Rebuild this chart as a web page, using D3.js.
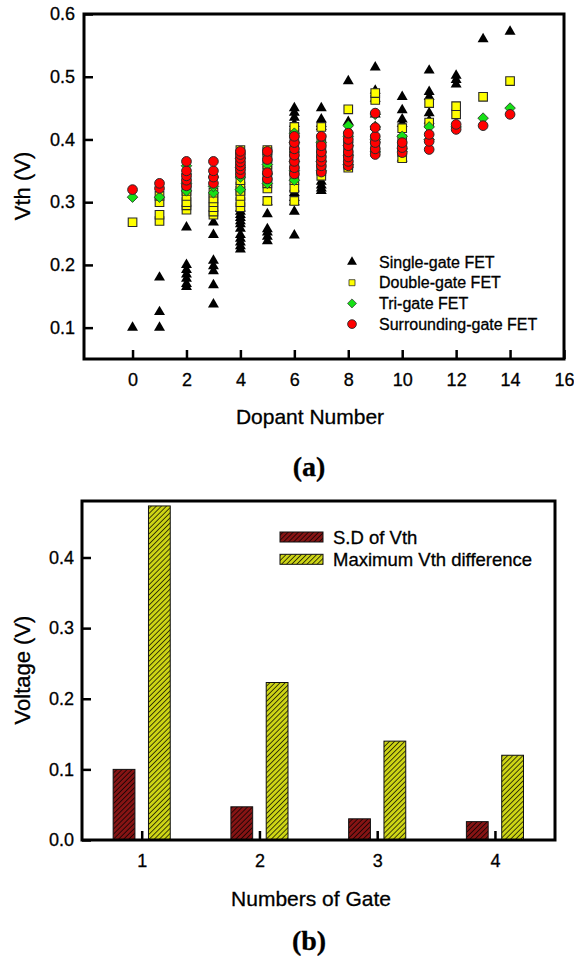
<!DOCTYPE html>
<html><head><meta charset="utf-8">
<script src="https://cdn.jsdelivr.net/npm/d3@7/dist/d3.min.js"></script>
<style>
body{margin:0;background:#fff;}
svg text{font-family:"Liberation Sans",Arial,sans-serif;fill:#000;stroke:#000;stroke-width:0.3px;}
</style></head>
<body><svg id="c" width="574" height="968"></svg>
<script>
// ---------- Data: panel (a) ----------
// Index = dopant number (0..14); values = Vth (V)
const dopantNumbers = [0,1,2,3,4,5,6,7,8,9,10,11,12,13,14];
const singleGate = [
  [0.10],
  [0.10,0.125,0.18],
  [0.165,0.17,0.178,0.185,0.192,0.20,0.26],
  [0.137,0.168,0.19,0.198,0.207,0.248,0.268],
  [0.225,0.23,0.236,0.242,0.248,0.258,0.265,0.27,0.275,0.28,0.285,0.29],
  [0.238,0.245,0.252,0.257,0.281,0.30],
  [0.247,0.285,0.30,0.307,0.315,0.322,0.425,0.435,0.443,0.45],
  [0.318,0.322,0.327,0.333,0.42,0.425,0.432,0.45],
  [0.36,0.38,0.40,0.415,0.428,0.493],
  [0.385,0.40,0.42,0.44,0.465,0.478,0.515],
  [0.37,0.385,0.425,0.432,0.447,0.468],
  [0.43,0.442,0.468,0.476,0.51],
  [0.488,0.495,0.502],
  [0.56],
  [0.572]
];
const doubleGate = [
  [0.268],
  [0.27,0.28,0.30,0.31],
  [0.288,0.295,0.30,0.31,0.318,0.325,0.335],
  [0.28,0.285,0.292,0.30,0.306,0.315],
  [0.292,0.30,0.31,0.318,0.325,0.335,0.345,0.355,0.365,0.375,0.383],
  [0.302,0.322,0.33,0.34,0.35,0.36,0.37,0.38,0.383],
  [0.302,0.322,0.335,0.35,0.36,0.375,0.39,0.40,0.41,0.42],
  [0.342,0.35,0.36,0.37,0.38,0.39,0.40,0.42],
  [0.355,0.36,0.37,0.38,0.39,0.40,0.448],
  [0.38,0.39,0.40,0.463,0.474],
  [0.37,0.38,0.39,0.40,0.418],
  [0.427,0.458],
  [0.44,0.453],
  [0.468],
  [0.493]
];
const triGate = [
  [0.308],
  [0.308],
  [0.318,0.33,0.345,0.358],
  [0.315,0.325,0.34],
  [0.32,0.34,0.355,0.37],
  [0.33,0.345,0.36],
  [0.335,0.35,0.365,0.38,0.395,0.41],
  [0.35,0.365,0.38,0.395],
  [0.36,0.375,0.39,0.405,0.422],
  [0.38,0.40,0.42,0.44],
  [0.385,0.405],
  [0.40,0.42],
  [0.42],
  [0.434],
  [0.45]
];
const surroundingGate = [
  [0.32],
  [0.322,0.33],
  [0.326,0.335,0.342,0.35,0.365],
  [0.33,0.34,0.35,0.365],
  [0.345,0.352,0.358,0.364,0.37,0.376,0.381],
  [0.337,0.347,0.368,0.381],
  [0.345,0.355,0.365,0.375,0.385,0.395,0.405],
  [0.348,0.358,0.365,0.372,0.38,0.39,0.405],
  [0.358,0.365,0.372,0.38,0.39,0.40,0.41],
  [0.376,0.385,0.395,0.405,0.419,0.442],
  [0.379,0.387,0.395],
  [0.384,0.397,0.408],
  [0.416,0.424],
  [0.422],
  [0.44]
];
const seriesNamesA = ["Single-gate FET","Double-gate FET","Tri-gate FET","Surrounding-gate FET"];
const xTicksA = [0,2,4,6,8,10,12,14,16];
const yTicksA = [0.1,0.2,0.3,0.4,0.5,0.6];

// ---------- Data: panel (b) ----------
const gates = [1,2,3,4];
const sdVth = [0.100,0.047,0.030,0.026];
const maxVthDiff = [0.473,0.223,0.140,0.120];
const seriesNamesB = ["S.D of Vth","Maximum Vth difference"];
const yTicksB = [0.0,0.1,0.2,0.3,0.4];

// ---------- Drawing ----------
const svg = d3.select("#c");
const defs = svg.append("defs");
function hatch(id, base){
  const p = defs.append("pattern").attr("id",id).attr("patternUnits","userSpaceOnUse")
    .attr("width",3.6).attr("height",3.6).attr("patternTransform","rotate(45)");
  p.append("rect").attr("width",3.6).attr("height",3.6).attr("fill",base);
  p.append("line").attr("x1",0).attr("y1",0).attr("x2",0).attr("y2",3.6)
    .attr("stroke","#000").attr("stroke-width",1.4);
}
hatch("hRed","#861414");
hatch("hYel","#cdd415");

// Panel (a)
const A = {l:84, r:564, t:14, b:359};
const xA = d3.scaleLinear().domain([-1.8,16]).range([A.l,A.r]);
const yA = d3.scaleLinear().domain([0.05,0.6]).range([A.b,A.t]);
const gA = svg.append("g");

const axA_x = gA.append("g").attr("transform",`translate(0,${A.b})`)
  .call(d3.axisBottom(xA).tickValues(xTicksA).tickSize(-9).tickPadding(14).tickFormat(d3.format("d")));
const axA_y = gA.append("g").attr("transform",`translate(${A.l},0)`)
  .call(d3.axisLeft(yA).tickValues(yTicksA).tickSize(-9).tickPadding(9).tickFormat(d3.format(".1f")));
[axA_x,axA_y].forEach(a=>{
  a.select(".domain").remove();
  a.selectAll(".tick line").attr("stroke","#000").attr("stroke-width",2.5);
  a.selectAll(".tick text").attr("font-size",18).attr("font-family","Liberation Sans, Arial");
});
gA.append("rect").attr("x",A.l).attr("y",A.t).attr("width",A.r-A.l).attr("height",A.b-A.t)
  .attr("fill","none").attr("stroke","#000").attr("stroke-width",3);

function flat(arr){ const o=[]; arr.forEach((vals,i)=>vals.forEach(v=>o.push({x:dopantNumbers[i],v}))); return o; }
const triPath = d3.symbol().type(d3.symbolTriangle).size(52)();
const sqPath = "M-4.3,-4.3H4.3V4.3H-4.3Z";
const diaPath = "M0,-5.3L5.3,0L0,5.3L-5.3,0Z";
const circPath = d3.symbol().type(d3.symbolCircle).size(74)();

const styles = [
  {data:singleGate, path:triPath, fill:"#000", stroke:"none", sw:0},
  {data:doubleGate, path:sqPath, fill:"#ffff00", stroke:"#2a2a2a", sw:1.1},
  {data:triGate, path:diaPath, fill:"#16e016", stroke:"#2a2a2a", sw:0.8},
  {data:surroundingGate, path:circPath, fill:"#ff0000", stroke:"#2a2a2a", sw:1}
];
styles.forEach(s=>{
  gA.append("g").selectAll("path").data(flat(s.data)).join("path")
    .attr("d",s.path).attr("transform",d=>`translate(${xA(d.x)},${yA(d.v)})`)
    .attr("fill",s.fill).attr("stroke",s.stroke).attr("stroke-width",s.sw);
});
// legend (a)
const legA = gA.append("g");
seriesNamesA.forEach((n,i)=>{
  const yy = 262 + i*20.7;
  const s = styles[i];
  const scale = i===1?0.7:(i===2?0.85:0.9);
  legA.append("path").attr("d",s.path).attr("transform",`translate(352,${yy}) scale(${scale})`)
    .attr("fill",s.fill).attr("stroke",s.stroke).attr("stroke-width",s.sw);
  legA.append("text").attr("x",379).attr("y",yy).attr("dominant-baseline","central")
    .attr("font-size",16).text(n);
});
svg.append("text").attr("x",22).attr("y",186).attr("transform","rotate(-90,22,186)")
  .attr("text-anchor","middle").attr("dominant-baseline","central").attr("font-size",22).text("Vth (V)");
svg.append("text").attr("x",310).attr("y",416).attr("text-anchor","middle").attr("dominant-baseline","central")
  .attr("font-size",21).text("Dopant Number");
svg.append("text").attr("x",309).attr("y",466).attr("text-anchor","middle").attr("dominant-baseline","central")
  .attr("font-size",28).attr("font-weight","bold").style("font-family","Liberation Serif, Times New Roman, serif").text("(a)");

// Panel (b)
const B = {l:82, r:555, t:501, b:840};
const xB = d3.scaleLinear().domain([0.493,4.51]).range([B.l,B.r]);
const yB = d3.scaleLinear().domain([0,0.48]).range([B.b,B.t]);
const gB = svg.append("g");
const bw = 0.185;
gB.append("g").selectAll("rect").data(gates.map((g,i)=>({g,v:sdVth[i]}))).join("rect")
  .attr("x",d=>xB(d.g-0.15-bw/2)).attr("width",d=>xB(d.g+bw/2)-xB(d.g-bw/2))
  .attr("y",d=>yB(d.v)).attr("height",d=>yB(0)-yB(d.v))
  .attr("fill","url(#hRed)").attr("stroke","#111").attr("stroke-width",1);
gB.append("g").selectAll("rect").data(gates.map((g,i)=>({g,v:maxVthDiff[i]}))).join("rect")
  .attr("x",d=>xB(d.g+0.15-bw/2)).attr("width",d=>xB(d.g+bw/2)-xB(d.g-bw/2))
  .attr("y",d=>yB(d.v)).attr("height",d=>yB(0)-yB(d.v))
  .attr("fill","url(#hYel)").attr("stroke","#111").attr("stroke-width",1);

const axB_x = gB.append("g").attr("transform",`translate(0,${B.b})`)
  .call(d3.axisBottom(xB).tickValues(gates).tickSize(-9).tickPadding(14).tickFormat(d3.format("d")));
const axB_y = gB.append("g").attr("transform",`translate(${B.l},0)`)
  .call(d3.axisLeft(yB).tickValues(yTicksB).tickSize(-9).tickPadding(8).tickFormat(d3.format(".1f")));
[axB_x,axB_y].forEach(a=>{
  a.select(".domain").remove();
  a.selectAll(".tick line").attr("stroke","#000").attr("stroke-width",2.5);
  a.selectAll(".tick text").attr("font-size",18).attr("font-family","Liberation Sans, Arial");
});
gB.append("rect").attr("x",B.l).attr("y",B.t).attr("width",B.r-B.l).attr("height",B.b-B.t)
  .attr("fill","none").attr("stroke","#000").attr("stroke-width",3);

// legend (b)
const fillsB = ["url(#hRed)","url(#hYel)"];
seriesNamesB.forEach((n,i)=>{
  const yy = 537 + i*22.3;
  gB.append("rect").attr("x",280).attr("y",yy-5).attr("width",43).attr("height",10)
    .attr("fill",fillsB[i]).attr("stroke","#111").attr("stroke-width",1);
  gB.append("text").attr("x",333).attr("y",yy).attr("dominant-baseline","central")
    .attr("font-size",18.5).text(n);
});
svg.append("text").attr("x",22).attr("y",670).attr("transform","rotate(-90,22,670)")
  .attr("text-anchor","middle").attr("dominant-baseline","central").attr("font-size",22).text("Voltage (V)");
svg.append("text").attr("x",311).attr("y",898).attr("text-anchor","middle").attr("dominant-baseline","central")
  .attr("font-size",21).text("Numbers of Gate");
svg.append("text").attr("x",309).attr("y",940).attr("text-anchor","middle").attr("dominant-baseline","central")
  .attr("font-size",28).attr("font-weight","bold").style("font-family","Liberation Serif, Times New Roman, serif").text("(b)");
</script></body></html>
